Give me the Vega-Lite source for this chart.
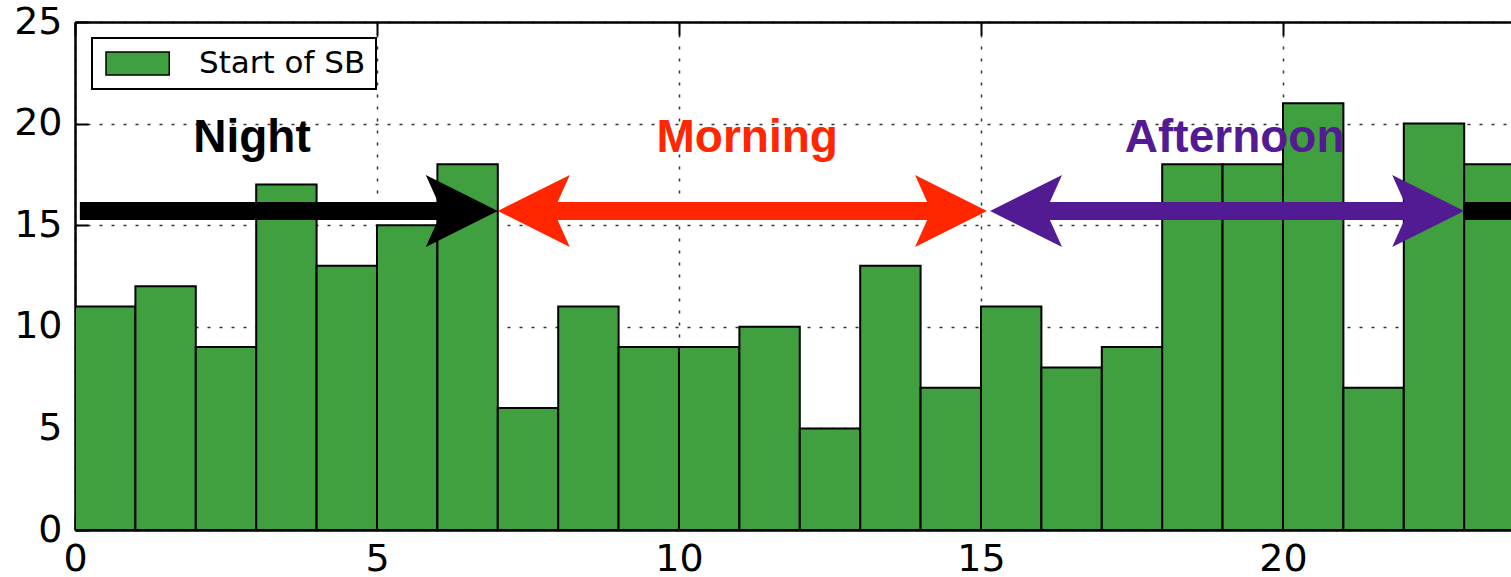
{
  "$schema": "https://vega.github.io/schema/vega-lite/v6.json",
  "width": 1436,
  "height": 508,
  "autosize": "none",
  "padding": {"left": 75, "top": 22, "right": 0, "bottom": 47},
  "background": "white",
  "config": {
    "view": {"stroke": null},
    "legend": {"strokeWidth": 2},
    "axis": {
      "title": null,
      "labelFont": "DejaVu Sans",
      "labelFontSize": 38,
      "labelColor": "black",
      "labelFlush": false,
      "labelOverlap": false,
      "tickColor": "black",
      "tickWidth": 2,
      "tickSize": -13,
      "domainColor": "black",
      "domainWidth": 2.5,
      "gridColor": "black",
      "gridDash": [3, 9],
      "gridWidth": 1.5,
      "gridOpacity": 0.8,
      "zindex": 1
    }
  },
  "datasets": {
    "hours": [
      {"start": 0, "end": 1, "count": 11},
      {"start": 1, "end": 2, "count": 12},
      {"start": 2, "end": 3, "count": 9},
      {"start": 3, "end": 4, "count": 17},
      {"start": 4, "end": 5, "count": 13},
      {"start": 5, "end": 6, "count": 15},
      {"start": 6, "end": 7, "count": 18},
      {"start": 7, "end": 8, "count": 6},
      {"start": 8, "end": 9, "count": 11},
      {"start": 9, "end": 10, "count": 9},
      {"start": 10, "end": 11, "count": 9},
      {"start": 11, "end": 12, "count": 10},
      {"start": 12, "end": 13, "count": 5},
      {"start": 13, "end": 14, "count": 13},
      {"start": 14, "end": 15, "count": 7},
      {"start": 15, "end": 16, "count": 11},
      {"start": 16, "end": 17, "count": 8},
      {"start": 17, "end": 18, "count": 9},
      {"start": 18, "end": 19, "count": 18},
      {"start": 19, "end": 20, "count": 18},
      {"start": 20, "end": 21, "count": 21},
      {"start": 21, "end": 22, "count": 7},
      {"start": 22, "end": 23, "count": 20},
      {"start": 23, "end": 24, "count": 18}
    ],
    "shafts": [
      {"period": "Night", "from": 0.08, "to": 6.4, "y": 15.7},
      {"period": "Morning", "from": 7.5, "to": 14.6, "y": 15.7},
      {"period": "Afternoon", "from": 15.6, "to": 22.5, "y": 15.7},
      {"period": "Night", "from": 23.0, "to": 24, "y": 15.7}
    ],
    "heads": [
      {"period": "Night", "x": 7.0, "y": 15.7, "dir": "right"},
      {"period": "Morning", "x": 7.0, "y": 15.7, "dir": "left"},
      {"period": "Morning", "x": 15.1, "y": 15.7, "dir": "right"},
      {"period": "Afternoon", "x": 15.15, "y": 15.7, "dir": "left"},
      {"period": "Afternoon", "x": 23.0, "y": 15.7, "dir": "right"}
    ],
    "periods": [
      {"period": "Night", "x": 2.93, "y": 18.6},
      {"period": "Morning", "x": 11.13, "y": 18.6},
      {"period": "Afternoon", "x": 19.2, "y": 18.6}
    ]
  },
  "resolve": {
    "axis": {"x": "independent", "y": "independent"},
    "scale": {"color": "independent"}
  },
  "layer": [
    {
      "data": {"name": "hours"},
      "mark": {"type": "rect", "stroke": "black", "strokeWidth": 2, "clip": true},
      "encoding": {
        "x": {
          "field": "start",
          "type": "quantitative",
          "scale": {"domain": [0, 23.775], "nice": false, "zero": false},
          "axis": {"orient": "bottom", "values": [0, 5, 10, 15, 20], "grid": true, "labelPadding": 23}
        },
        "x2": {"field": "end"},
        "y": {
          "field": "count",
          "type": "quantitative",
          "scale": {"domain": [0, 25], "nice": false},
          "axis": {"orient": "left", "values": [0, 5, 10, 15, 20, 25], "grid": true, "labelPadding": 26}
        },
        "y2": {"datum": 0},
        "color": {
          "datum": "Start of SB",
          "scale": {"range": ["#40a040"]},
          "legend": {
            "orient": "none",
            "legendX": 17,
            "legendY": 16,
            "title": null,
            "fillColor": "white",
            "strokeColor": "black",
            "cornerRadius": 0,
            "padding": 10,
            "labelFont": "DejaVu Sans",
            "labelFontSize": 31,
            "labelColor": "black",
            "labelOffset": 66,
            "labelLimit": 400,
            "symbolSize": 529,
            "symbolType": "M-1,-1H4.5V1H-1Z",
            "symbolStrokeColor": "black",
            "symbolStrokeWidth": 1.5,
            "symbolOpacity": 1
          }
        }
      }
    },
    {
      "data": {"name": "shafts"},
      "mark": {"type": "rule", "strokeWidth": 18, "strokeCap": "butt", "clip": true},
      "encoding": {
        "x": {"field": "from", "type": "quantitative", "scale": {"domain": [0, 23.775], "nice": false, "zero": false}, "axis": null},
        "x2": {"field": "to"},
        "y": {"field": "y", "type": "quantitative", "scale": {"domain": [0, 25], "nice": false}, "axis": null},
        "color": {
          "field": "period",
          "type": "nominal",
          "scale": {"domain": ["Night", "Morning", "Afternoon"], "range": ["#000000", "#ff2600", "#531b93"]},
          "legend": null
        }
      }
    },
    {
      "data": {"name": "heads"},
      "mark": {"type": "point", "filled": true, "opacity": 1, "strokeWidth": 0, "size": 5184},
      "encoding": {
        "x": {"field": "x", "type": "quantitative", "scale": {"domain": [0, 23.775], "nice": false, "zero": false}, "axis": null},
        "y": {"field": "y", "type": "quantitative", "scale": {"domain": [0, 25], "nice": false}, "axis": null},
        "shape": {
          "field": "dir",
          "type": "nominal",
          "scale": {"domain": ["right", "left"], "range": ["M0,0L-2,-1L-1.55,0L-2,1Z", "M0,0L2,-1L1.55,0L2,1Z"]},
          "legend": null
        },
        "color": {
          "field": "period",
          "type": "nominal",
          "scale": {"domain": ["Night", "Morning", "Afternoon"], "range": ["#000000", "#ff2600", "#531b93"]},
          "legend": null
        }
      }
    },
    {
      "data": {"name": "periods"},
      "mark": {"type": "text", "font": "Liberation Sans", "fontWeight": "bold", "fontSize": 46, "align": "center", "baseline": "alphabetic"},
      "encoding": {
        "x": {
          "field": "x",
          "type": "quantitative",
          "scale": {"domain": [0, 23.775], "nice": false, "zero": false},
          "axis": {"orient": "top", "values": [0, 5, 10, 15, 20], "labels": false, "grid": false}
        },
        "y": {"field": "y", "type": "quantitative", "scale": {"domain": [0, 25], "nice": false}, "axis": null},
        "text": {"field": "period"},
        "color": {
          "field": "period",
          "type": "nominal",
          "scale": {"domain": ["Night", "Morning", "Afternoon"], "range": ["#000000", "#ff2600", "#531b93"]},
          "legend": null
        }
      }
    }
  ]
}
